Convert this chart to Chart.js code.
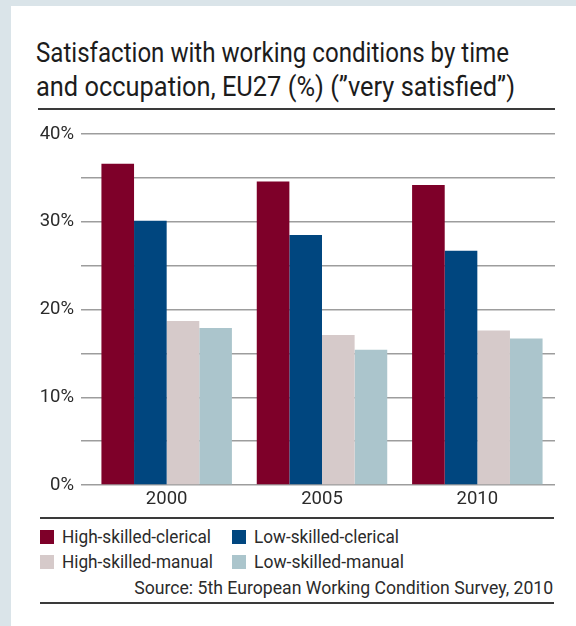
<!DOCTYPE html>
<html>
<head>
<meta charset="utf-8">
<script src="https://cdn.jsdelivr.net/npm/chart.js@4/dist/chart.umd.min.js"></script>
<style>
  html, body { margin: 0; padding: 0; }
  body { width: 576px; height: 626px; background: #dae4e9; position: relative; overflow: hidden;
         font-family: Roboto, "Noto Sans", sans-serif; color: #2b2b2b; }
  #panel { position: absolute; left: 11px; top: 6px; right: 0; bottom: 0; background: #ffffff; }
  .tl { position: absolute; left: 36px; font-size: 28px; line-height: 34px; white-space: nowrap;
        font-weight: 400; color: #1c1c1c; transform-origin: 0 0; }
  .rule { position: absolute; height: 2px; background: #3a3a3a; }
  #chartbox { position: absolute; left: 0; top: 0; width: 576px; height: 515px; }
  .lg { position: absolute; height: 18px; line-height: 18px; font-size: 19px; white-space: nowrap; color: #2b2b2b; }
  .lg .box { position: absolute; left: 0; top: 2px; width: 14px; height: 14px; }
  .lg .txt { position: absolute; left: 22px; top: 0; transform-origin: 0 0; }
  #source { position: absolute; right: 23px; top: 579px; font-size: 19px; line-height: 18px;
            white-space: nowrap; color: #2b2b2b; transform-origin: 100% 0; }
</style>
</head>
<body>
<div id="panel"></div>
<div class="tl" id="t1" style="top:36px">Satisfaction with working conditions by time</div>
<div class="tl" id="t2" style="top:70px">and occupation, EU27 (%) (”very satisfied”)</div>
<div class="rule" style="left:38px; width:517px; top:108px;"></div>
<div id="chartbox"><canvas id="c" width="576" height="515"></canvas></div>
<div class="rule" style="left:40px; width:514px; top:517px;"></div>
<div id="legend"></div>
<div id="source">Source: 5th European Working Condition Survey, 2010</div>
<div class="rule" style="left:40px; width:514px; top:602px;"></div>
<script>
// ---- data ----
const categories = ['2000', '2005', '2010'];
const highSkilledClerical = [36.6, 34.6, 34.2];
const lowSkilledClerical  = [30.1, 28.5, 26.7];
const highSkilledManual   = [18.7, 17.1, 17.6];
const lowSkilledManual    = [17.9, 15.4, 16.7];
const seriesNames  = ['High-skilled-clerical', 'Low-skilled-clerical', 'High-skilled-manual', 'Low-skilled-manual'];
const seriesColors = ['#7e0029', '#00467f', '#d6caca', '#abc5cc'];
const yTickValues  = [0, 10, 20, 30, 40];

const seriesValues = [highSkilledClerical, lowSkilledClerical, highSkilledManual, lowSkilledManual];

const chart = new Chart(document.getElementById('c'), {
  type: 'bar',
  data: {
    labels: categories,
    datasets: seriesNames.map((n, i) => ({
      label: n,
      data: seriesValues[i],
      backgroundColor: seriesColors[i],
      borderWidth: 0,
      categoryPercentage: 0.84,
      barPercentage: 1.0
    }))
  },
  options: {
    responsive: false,
    animation: false,
    layout: { padding: { left: 0, right: 21, top: 134, bottom: 0 } },
    plugins: { legend: { display: false }, title: { display: false }, tooltip: { enabled: false } },
    scales: {
      x: {
        grid: { display: false, drawTicks: false },
        border: { display: false },
        ticks: { color: '#2b2b2b', font: { family: 'Roboto', size: 18.5 }, padding: 3, maxRotation: 0 },
        afterFit: (s) => { s.height = 30; }
      },
      y: {
        min: yTickValues[0],
        max: yTickValues[yTickValues.length - 1],
        grid: { color: '#9d9d9d', lineWidth: 1.5, tickLength: 8, drawTicks: true },
        border: { display: false },
        ticks: {
          stepSize: 5,
          autoSkip: false,
          padding: 7,
          color: '#2b2b2b',
          font: { family: 'Roboto', size: 18.5 },
          callback: (v) => yTickValues.includes(v) ? v + '%' : ''
        },
        afterFit: (s) => { s.width = 89; }
      }
    }
  }
});

// ---- HTML legend built from the chart's datasets ----
const legendPos = [[40, 528], [232, 528], [40, 553], [232, 553]];
const legendTargetW = [149, 145, 151, 150];
const legendEl = document.getElementById('legend');
chart.data.datasets.forEach((ds, i) => {
  const item = document.createElement('div');
  item.className = 'lg';
  item.style.left = legendPos[i][0] + 'px';
  item.style.top = legendPos[i][1] + 'px';
  const box = document.createElement('span');
  box.className = 'box';
  box.style.background = ds.backgroundColor;
  const txt = document.createElement('span');
  txt.className = 'txt';
  txt.textContent = ds.label;
  txt.dataset.w = legendTargetW[i];
  item.appendChild(box);
  item.appendChild(txt);
  legendEl.appendChild(item);
});

function fit(el, target) {
  el.style.transform = 'none';
  const w = el.getBoundingClientRect().width;
  if (w > 0) el.style.transform = 'scaleX(' + (target / w) + ')';
}
function fitAll() {
  fit(document.getElementById('t1'), 473);
  fit(document.getElementById('t2'), 479);
  fit(document.getElementById('source'), 419);
  document.querySelectorAll('.lg .txt').forEach(el => fit(el, +el.dataset.w));
}
fitAll();
if (document.fonts && document.fonts.ready) document.fonts.ready.then(fitAll);
</script>
</body>
</html>
